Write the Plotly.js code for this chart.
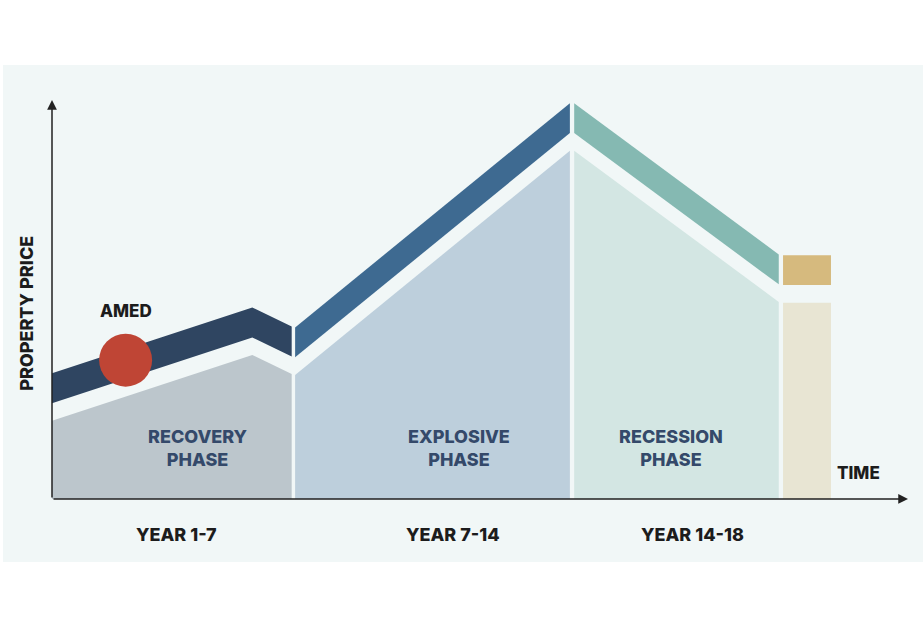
<!DOCTYPE html>
<html>
<head>
<meta charset="utf-8">
<script src="https://cdn.plot.ly/plotly-3.0.1.min.js"></script>
<style>html,body{margin:0;padding:0;background:#fff;}#chart{width:923px;height:637px;}</style>
</head>
<body>
<div id="chart"></div>
<script>
// ---- data (time in arbitrary units 0..100, price index 0..100) ----
const phaseNames = ["RECOVERY<br>PHASE", "EXPLOSIVE<br>PHASE", "RECESSION<br>PHASE"];
const yearLabels = ["YEAR 1-7", "YEAR 7-14", "YEAR 14-18"];
const recoveryTime = [0, 23.4, 28.0];
const recoveryPrice = [31.5, 48.0, 43.2];
const explosiveTime = [28.4, 60.5];
const explosivePrice = [43.0, 99.2];
const recessionTime = [61.0, 84.9];
const recessionPrice = [99.2, 61.3];
const nextTime = [85.4, 91.0];
const nextPrice = [61.1, 61.1];
const amedTime = [8.6];
const amedPrice = [34.8];

// ---- style ----
const BAND = 7.5;     // band thickness in price units
const GAP = 4.4;      // gap between band and area
const segs = [
  {t: recoveryTime, p: recoveryPrice, band: '#2f4561', fill: '#bcc6cc'},
  {t: explosiveTime, p: explosivePrice, band: '#3e6a91', fill: '#bdcfdc'},
  {t: recessionTime, p: recessionPrice, band: '#85b9b2', fill: '#d3e6e3'},
  {t: nextTime, p: nextPrice, band: '#d6ba7e', fill: '#e8e5d3'}
];

const traces = [];
segs.forEach(s => {
  const n = s.t.length;
  const ax = [s.t[0]].concat(s.t).concat([s.t[n-1]]);
  const ay = [0].concat(s.p.map(v => v - BAND - GAP)).concat([0]);
  traces.push({x: ax, y: ay, type: 'scatter', mode: 'lines', fill: 'toself',
    fillcolor: s.fill, line: {width: 0}, hoverinfo: 'skip', showlegend: false});
  const bx = s.t.concat(s.t.slice().reverse());
  const by = s.p.concat(s.p.map(v => v - BAND).reverse());
  traces.push({x: bx, y: by, type: 'scatter', mode: 'lines', fill: 'toself',
    fillcolor: s.band, line: {width: 0}, hoverinfo: 'skip', showlegend: false});
});
traces.push({x: amedTime, y: amedPrice, type: 'scatter', mode: 'markers',
  marker: {size: 53, color: '#bf4535', line: {width: 0}}, hoverinfo: 'skip', showlegend: false});

const FONT = 'Inter, "Open Sans", sans-serif';
const phaseX = [17.1, 47.6, 72.3];
const yearX = [14.5, 46.8, 74.8];
const annotations = [];
phaseNames.forEach((t, i) => annotations.push({x: phaseX[i], y: 12.9, text: t, showarrow: false,
  xanchor: 'center', yanchor: 'middle',
  font: {family: FONT, size: 18, weight: 800, color: '#34496a'}}));
yearLabels.forEach((t, i) => annotations.push({x: yearX[i], y: -8.8, text: t, showarrow: false,
  xanchor: 'center', yanchor: 'middle',
  font: {family: FONT, size: 18, weight: 800, color: '#1c1c1c'}}));
annotations.push({x: 8.6, y: 47.2, text: 'AMED', showarrow: false, xanchor: 'center', yanchor: 'middle',
  font: {family: FONT, size: 17, weight: 800, color: '#1c1c1c'}});
annotations.push({x: 94.2, y: 6.4, text: 'TIME', showarrow: false, xanchor: 'center', yanchor: 'middle',
  font: {family: FONT, size: 17, weight: 800, color: '#1c1c1c'}});
annotations.push({xref: 'paper', x: 27/923, y: 46.4, text: 'PROPERTY PRICE', showarrow: false,
  textangle: -90, xanchor: 'center', yanchor: 'middle',
  font: {family: FONT, size: 18, weight: 800, color: '#1c1c1c'}});
// axis arrows
annotations.push({x: 0, y: 100, ax: 0, ay: 0, axref: 'x', ayref: 'y', text: '', showarrow: true,
  arrowhead: 2, arrowsize: 1.3, arrowwidth: 1.5, arrowcolor: '#222'});
annotations.push({x: 100, y: 0, ax: 0, ay: 0, axref: 'x', ayref: 'y', text: '', showarrow: true,
  arrowhead: 2, arrowsize: 1.3, arrowwidth: 1.5, arrowcolor: '#222'});

const layout = {
  width: 923, height: 637,
  margin: {l: 0, r: 0, t: 0, b: 0},
  paper_bgcolor: '#ffffff', plot_bgcolor: 'rgba(0,0,0,0)',
  xaxis: {range: [-6.075, 101.75], visible: false, fixedrange: true},
  yaxis: {range: [-34.59, 125.06], visible: false, fixedrange: true},
  shapes: [{type: 'rect', xref: 'paper', yref: 'paper', x0: 3/923, x1: 1, y0: 75/637, y1: 572/637,
    fillcolor: '#f1f7f7', line: {width: 0}, layer: 'below'}],
  annotations: annotations,
  showlegend: false
};
Plotly.newPlot('chart', traces, layout, {staticPlot: true, displayModeBar: false});
</script>
</body>
</html>
